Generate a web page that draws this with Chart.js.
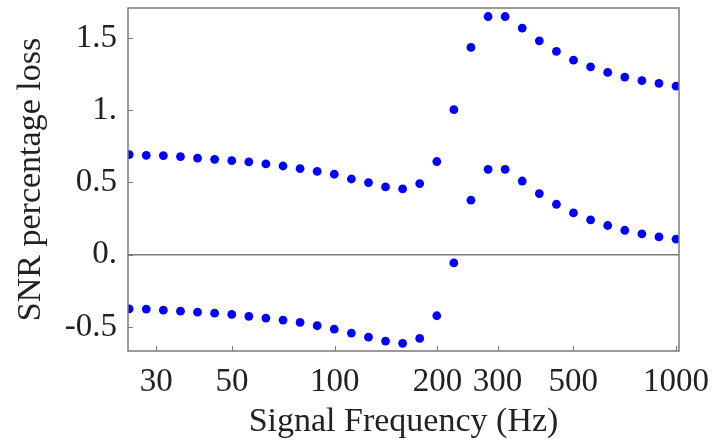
<!DOCTYPE html>
<html>
<head>
<meta charset="utf-8">
<script src="https://cdn.jsdelivr.net/npm/chart.js@4/dist/chart.umd.min.js"></script>
<style>
  html, body { margin: 0; padding: 0; background: #fff; }
  #wrap { width: 718px; height: 443px; }
</style>
</head>
<body>
<div id="wrap"><canvas id="c"></canvas></div>
<script>
// signal frequencies (Hz), one per sample point
var freqs = [25.0, 28.05, 31.48, 35.33, 39.65, 44.49, 49.93, 56.03, 62.87, 70.56, 79.18,
  88.85, 99.71, 111.9, 125.6, 140.9, 158.1, 177.4, 199.1, 223.4, 250.7, 281.4, 315.7,
  354.3, 397.6, 446.2, 500.7, 561.9, 630.6, 707.6, 794.1, 891.1, 1000];

// upper and lower branch of the SNR loss
var upperLoss = [0.693, 0.688, 0.686, 0.679, 0.669, 0.660, 0.651, 0.642, 0.628, 0.614, 0.596,
  0.577, 0.557, 0.524, 0.499, 0.469, 0.455, 0.492, 0.645, 1.004, 1.435, 1.649, 1.649,
  1.569, 1.481, 1.407, 1.347, 1.301, 1.262, 1.230, 1.205, 1.186, 1.167];
var lowerLoss = [-0.375, -0.377, -0.384, -0.391, -0.398, -0.405, -0.414, -0.427, -0.439, -0.453, -0.469,
  -0.492, -0.515, -0.543, -0.571, -0.598, -0.614, -0.580, -0.423, -0.057, 0.377, 0.591, 0.591,
  0.510, 0.423, 0.349, 0.289, 0.241, 0.202, 0.169, 0.144, 0.123, 0.107];

var xTicks = [30, 50, 100, 200, 300, 500, 1000];
var yTicks = [-0.5, 0, 0.5, 1, 1.5];
var yTickLabels = ['-0.5', '0.', '0.5', '1.', '1.5'];

var frameColor = '#7a7a7a';
var serif = '"Liberation Serif", "DejaVu Serif", serif';

function pts(ys) {
  return freqs.map(function (f, i) { return { x: f, y: ys[i] }; });
}

// labels are not at the axis ends here, so drop the edge padding chart.js reserves
function noEdgePad(s) {
  s.paddingTop = 0; s.paddingBottom = 0; s.paddingLeft = 0; s.paddingRight = 0;
}

// frame box plus the short inward tick marks
var framePlugin = {
  id: 'frame',
  afterDatasetsDraw: function (chart) {
    var a = chart.chartArea, ctx = chart.ctx;
    var xs = chart.scales.x, ys = chart.scales.y;
    ctx.save();
    ctx.strokeStyle = frameColor;
    ctx.lineWidth = 1.5;
    ctx.strokeRect(a.left, a.top, a.right - a.left, a.bottom - a.top);
    ctx.lineWidth = 1;
    ctx.beginPath();
    xTicks.forEach(function (v) {
      var px = Math.round(xs.getPixelForValue(v)) + 0.5;
      ctx.moveTo(px, a.bottom); ctx.lineTo(px, a.bottom - 5);
    });
    yTicks.forEach(function (v) {
      var py = Math.round(ys.getPixelForValue(v)) + 0.5;
      ctx.moveTo(a.left, py); ctx.lineTo(a.left + 5, py);
    });
    ctx.stroke();
    ctx.restore();
  }
};

new Chart(document.getElementById('c'), {
  type: 'scatter',
  data: {
    datasets: [
      { label: 'upper', data: pts(upperLoss), backgroundColor: '#0000ff', borderWidth: 0, pointRadius: 4.4, pointHoverRadius: 4.4 },
      { label: 'lower', data: pts(lowerLoss), backgroundColor: '#0000ff', borderWidth: 0, pointRadius: 4.4, pointHoverRadius: 4.4 }
    ]
  },
  options: {
    responsive: true,
    maintainAspectRatio: false,
    devicePixelRatio: 1,
    animation: false,
    layout: { padding: { top: 8, right: 39, left: 0, bottom: 0 } },
    plugins: { legend: { display: false }, tooltip: { enabled: false } },
    scales: {
      x: {
        type: 'logarithmic',
        min: 24.8,
        max: 1020,
        afterBuildTicks: function (s) { s.ticks = xTicks.map(function (v) { return { value: v }; }); },
        afterFit: function (s) { s.height = 92; noEdgePad(s); },
        grid: { display: false, drawTicks: false },
        border: { display: false },
        ticks: {
          autoSkip: false, maxRotation: 0, padding: 12, color: '#222',
          font: { family: serif, size: 33 },
          callback: function (v) { return String(v); }
        },
        title: {
          display: true, text: 'Signal Frequency (Hz)', color: '#222',
          font: { family: serif, size: 34 }, padding: { top: 0, bottom: 1 }
        }
      },
      y: {
        min: -0.667,
        max: 1.708,
        afterBuildTicks: function (s) { s.ticks = yTicks.map(function (v) { return { value: v }; }); },
        afterFit: function (s) { s.width = 128; noEdgePad(s); },
        grid: {
          drawTicks: false,
          lineWidth: 1.5,
          color: function (c) { return c.tick && c.tick.value === 0 ? frameColor : 'rgba(0,0,0,0)'; }
        },
        border: { display: false },
        ticks: {
          autoSkip: false, padding: 11, color: '#222',
          font: { family: serif, size: 33 },
          callback: function (v) {
            var i = yTicks.indexOf(v);
            return i >= 0 ? yTickLabels[i] : '';
          }
        },
        title: {
          display: true, text: 'SNR percentage loss', color: '#222',
          font: { family: serif, size: 34 }, padding: { top: 11, bottom: 0 }
        }
      }
    }
  },
  plugins: [framePlugin]
});
</script>
</body>
</html>
